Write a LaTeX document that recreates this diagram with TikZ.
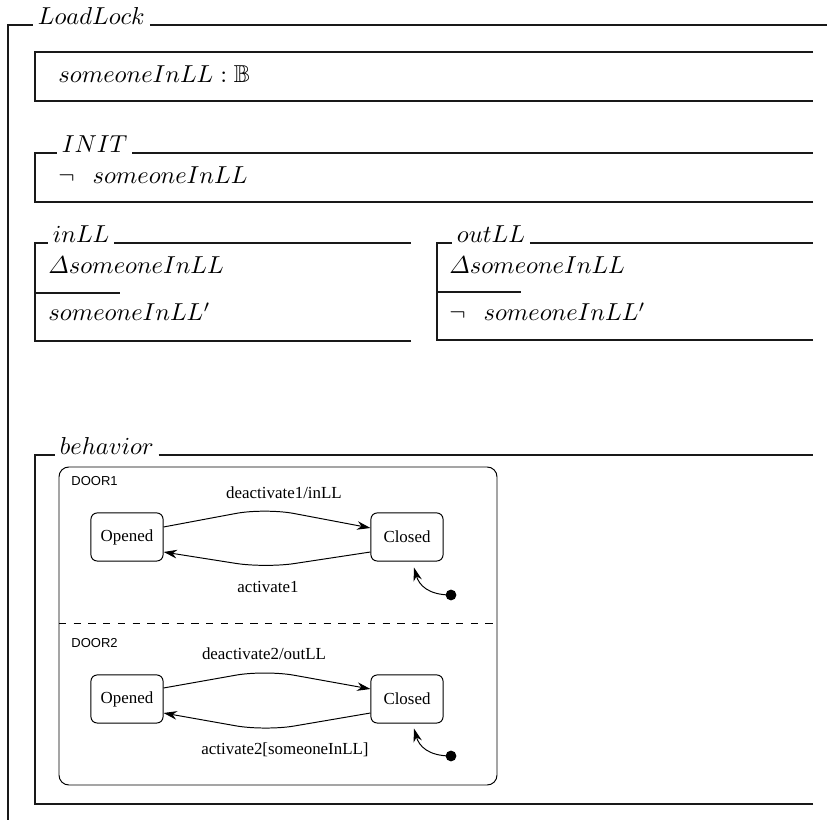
\documentclass[tikz,border=0pt]{standalone}
\usepackage{amsmath}
\usepackage{amssymb}
\usepackage{fontspec}
\newfontfamily\statefont{Liberation Serif}
\newfontfamily\regionfont{Liberation Sans}
\usetikzlibrary{arrows.meta,calc}

\begin{document}
\begin{tikzpicture}[x=0.408pt,y=-0.408pt,
  zline/.style={line width=0.45pt, draw=black!90},
  zname/.style={anchor=base west, inner xsep=2pt, inner ysep=0pt, outer sep=0pt},
  zbody/.style={anchor=base west, inner sep=0pt},
  state/.style={draw, rounded corners=2.5pt, minimum width=29.4pt, minimum height=19.6pt,
    inner sep=0pt, line width=0.4pt, font=\statefont\fontsize{6.9}{8}\selectfont},
  trans/.style={line width=0.4pt, rounded corners=12pt, -{Stealth[length=5.5pt,width=3.5pt]}},
  initarrow/.style={line width=0.4pt, -{Stealth[length=5.5pt,width=3.5pt]}},
  tlabel/.style={font=\statefont\fontsize{6.9}{8}\selectfont, inner sep=0pt},
  region/.style={font=\regionfont\fontsize{5.3}{6}\selectfont, anchor=base west, inner sep=0pt},
]
\useasboundingbox (0,0) rectangle (827,820);

% ---- LoadLock class frame
\node[zname] (ll) at (33,25) {$LoadLock$};
\draw[zline] (8,820) -- (8,25) -- (ll.base west);
\draw[zline] (ll.base east) -- (827,25);

% ---- state schema
\draw[zline] (813,52) -- (35,52) -- (35,101) -- (813,101);
\node[zbody] (st) at (58,83) {$someoneInLL : \mathbb{B}$};

% ---- INIT
\node[zname] (init) at (57,153) {$INIT$};
\draw[zline] (813,202) -- (35,202) -- (35,153) -- (init.base west);
\draw[zline] (init.base east) -- (813,153);
\node[zbody] (initp) at (58,184) {$\lnot\;\;\, someoneInLL$};

% ---- inLL
\node[zname] (inll) at (48,243) {$inLL$};
\draw[zline] (411,341) -- (35,341) -- (35,243) -- (inll.base west);
\draw[zline] (inll.base east) -- (411,243);
\draw[zline] (35,293) -- (120,293);
\node[zbody] (inD) at (48,274) {$\varDelta someoneInLL$};
\node[zbody] (inP) at (48,321) {$someoneInLL'$};

% ---- outLL
\node[zname] (outll) at (452,243) {$outLL$};
\draw[zline] (813,340) -- (437,340) -- (437,243) -- (outll.base west);
\draw[zline] (outll.base east) -- (813,243);
\draw[zline] (437,292) -- (521,292);
\node[zbody] (outD) at (449,274) {$\varDelta someoneInLL$};
\node[zbody] (outP) at (449,321) {$\lnot\;\;\, someoneInLL'$};

% ---- behavior
\node[zname] (beh) at (55,455) {$behavior$};
\draw[zline] (813,804) -- (35,804) -- (35,455) -- (beh.base west);
\draw[zline] (beh.base east) -- (813,455);

% statechart with two orthogonal regions
\draw[line width=0.4pt, rounded corners=4pt] (59,467) rectangle (497,785);
\draw[line width=0.4pt, dashed] (59,623) -- (497,623);
\node[region] (r1) at (71,486) {DOOR1};
\node[region] (r2) at (71,648) {DOOR2};

% region DOOR1
\node[state] (o1) at (127,537) {Opened};
\node[state] (c1) at (407,537) {Closed};
\draw[trans] ($(o1.east)+(0,-10)$) -- (265,508) -- ($(c1.west)+(0,-9)$);
\draw[trans] ($(c1.west)+(0,15)$) -- (265,568) -- ($(o1.east)+(0,15)$);
\node[tlabel] (t1) at (284,493) {deactivate1/inLL};
\node[tlabel] (t2) at (268,587) {activate1};
\fill (451,595) circle (2.2pt) coordinate (i1);
\draw[initarrow] (i1) .. controls (428,595) and (419,585) .. ($(c1.south)+(7,6)$);

% region DOOR2
\node[state] (o2) at (127,699) {Opened};
\node[state] (c2) at (407,699) {Closed};
\draw[trans] ($(o2.east)+(0,-11)$) -- (265,670) -- ($(c2.west)+(0,-10)$);
\draw[trans] ($(c2.west)+(0,14)$) -- (265,731) -- ($(o2.east)+(0,14)$);
\node[tlabel] (t3) at (264,654) {deactivate2/outLL};
\node[tlabel] (t4) at (285,750) {activate2[someoneInLL]};
\fill (451,756) circle (2.2pt) coordinate (i2);
\draw[initarrow] (i2) .. controls (428,756) and (419,746) .. ($(c2.south)+(7,5)$);
\end{tikzpicture}
\end{document}
